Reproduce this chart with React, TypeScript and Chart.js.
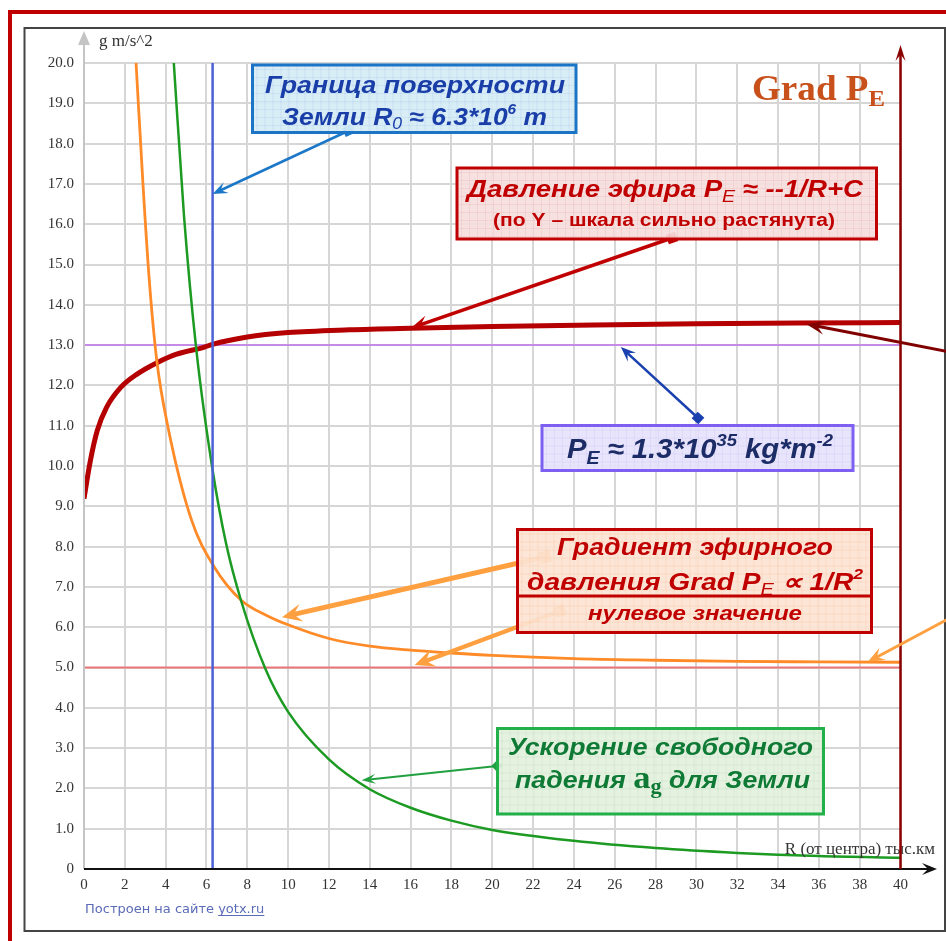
import React, { useEffect, useRef } from 'react';
import { Chart, registerables } from 'chart.js';
Chart.register(...registerables);

const W = 946;
const H = 941;

// ---- data (R in thousand km) ----
const pressureR = [0, 0.3, 0.65, 1.1, 1.8, 2.6, 3.6, 4.5, 5.9, 6.3, 8, 10, 13, 16, 20, 25, 30, 35, 40];
const pressureY = [9.19, 10.1, 10.88, 11.45, 11.95, 12.28, 12.57, 12.77, 12.95, 13.02, 13.2, 13.31, 13.38, 13.42, 13.46, 13.5, 13.53, 13.55, 13.56];
const gradR = [2.55, 2.9, 3.2, 3.57, 4.1, 5.24, 6.35, 7.7, 9, 10, 12, 14, 16, 18, 20, 24, 28, 32, 36, 40];
const gradY = [20, 16.9, 14.6, 12.6, 11.0, 8.7, 7.52, 6.67, 6.28, 6.06, 5.72, 5.53, 5.43, 5.36, 5.3, 5.22, 5.18, 5.15, 5.14, 5.13];
const gravR = [4.4, 4.9, 5.5, 6.3, 6.95, 7.7, 8.9, 10, 12, 14, 16, 18, 20, 24, 28, 32, 36, 40];
const gravY = [20, 16.2, 12.9, 9.9, 8.1, 6.65, 4.95, 3.9, 2.72, 1.98, 1.52, 1.2, 0.97, 0.7, 0.52, 0.4, 0.32, 0.28];
const surfaceR = 6.3;
const pressureLevel = 13;
const zeroGradLevel = 5;
const xRange = [0, 40];
const yRange = [0, 20];
const xTickValues = [0, 2, 4, 6, 8, 10, 12, 14, 16, 18, 20, 22, 24, 26, 28, 30, 32, 34, 36, 38, 40];
const yTickValues = [0, 1, 2, 3, 4, 5, 6, 7, 8, 9, 10, 11, 12, 13, 14, 15, 16, 17, 18, 19, 20];
const yAxisTitle = 'g m/s^2';
const xAxisTitle = 'R (от центра) тыс.км';
const credit = 'Построен на сайте ';
const creditLink = 'yotx.ru';

type Run = { t: string; f: string; dy?: number; c?: string };

function drawRuns(ctx: CanvasRenderingContext2D, runs: Run[], cx: number, y: number, color: string, targetW?: number) {
  let total = 0;
  const widths = runs.map((r) => {
    ctx.font = r.f;
    const w = ctx.measureText(r.t).width;
    total += w;
    return w;
  });
  const sx = targetW ? targetW / total : 1;
  ctx.save();
  ctx.translate(cx, 0);
  ctx.scale(sx, 1);
  let x = -total / 2;
  ctx.textAlign = 'left';
  ctx.textBaseline = 'alphabetic';
  runs.forEach((r, i) => {
    ctx.font = r.f;
    ctx.fillStyle = r.c || color;
    ctx.fillText(r.t, x, y + (r.dy || 0));
    x += widths[i];
  });
  ctx.restore();
}

function arrow(
  ctx: CanvasRenderingContext2D,
  x1: number, y1: number, x2: number, y2: number,
  color: string, lw: number, head: number, half: number,
  mark?: 'square' | 'diamond', markSize = 10
) {
  const ang = Math.atan2(y2 - y1, x2 - x1);
  const c = Math.cos(ang), s = Math.sin(ang);
  const P = (a: number, b: number) => [x2 - c * a - s * b, y2 - s * a + c * b];
  ctx.save();
  ctx.strokeStyle = color;
  ctx.fillStyle = color;
  ctx.lineWidth = lw;
  ctx.lineCap = 'butt';
  ctx.beginPath();
  ctx.moveTo(x1, y1);
  const e = P(head * 0.55, 0);
  ctx.lineTo(e[0], e[1]);
  ctx.stroke();
  const l = P(head, half), r = P(head, -half), n = P(head * 0.6, 0);
  ctx.beginPath();
  ctx.moveTo(x2, y2);
  ctx.lineTo(l[0], l[1]);
  ctx.lineTo(n[0], n[1]);
  ctx.lineTo(r[0], r[1]);
  ctx.closePath();
  ctx.fill();
  if (mark) {
    ctx.translate(x1, y1);
    ctx.rotate(mark === 'diamond' ? Math.PI / 4 : ang);
    ctx.fillRect(-markSize / 2, -markSize / 2, markSize, markSize);
  }
  ctx.restore();
}

function box(ctx: CanvasRenderingContext2D, x: number, y: number, w: number, h: number, fill: string, stroke: string, pattern: string) {
  ctx.save();
  ctx.fillStyle = fill;
  ctx.fillRect(x, y, w, h);
  ctx.beginPath();
  ctx.rect(x, y, w, h);
  ctx.clip();
  ctx.strokeStyle = pattern;
  ctx.lineWidth = 1;
  for (let gx = x + 4; gx < x + w; gx += 8) {
    ctx.beginPath(); ctx.moveTo(gx + 0.5, y); ctx.lineTo(gx + 0.5, y + h); ctx.stroke();
  }
  for (let gy = y + 4; gy < y + h; gy += 8) {
    ctx.beginPath(); ctx.moveTo(x, gy + 0.5); ctx.lineTo(x + w, gy + 0.5); ctx.stroke();
  }
  ctx.restore();
  ctx.save();
  ctx.strokeStyle = stroke;
  ctx.lineWidth = 3;
  ctx.strokeRect(x, y, w, h);
  ctx.restore();
}

const SANS = '"Liberation Sans", Arial, sans-serif';
const SERIF = '"Liberation Serif", "Times New Roman", serif';
const bi = (px: number) => `italic bold ${px}px ${SANS}`;

const decor = {
  id: 'decor',
  beforeDraw(chart: any) {
    const ctx = chart.ctx as CanvasRenderingContext2D;
    ctx.save();
    ctx.fillStyle = '#fff';
    ctx.fillRect(0, 0, W, H);
    ctx.restore();
  },
  afterDraw(chart: any) {
    const ctx = chart.ctx as CanvasRenderingContext2D;
    const xs = chart.scales.x, ys = chart.scales.y;
    const X = (v: number) => xs.getPixelForValue(v);
    const Y = (v: number) => ys.getPixelForValue(v);

    ctx.save();
    // frames
    ctx.strokeStyle = '#c00000';
    ctx.lineWidth = 4;
    ctx.strokeRect(10, 12, 1000, 1000);
    ctx.strokeStyle = '#444';
    ctx.lineWidth = 2;
    ctx.strokeRect(24.5, 28, 920.5, 903);

    // y axis (gray with arrow)
    ctx.strokeStyle = '#c4c4c4';
    ctx.lineWidth = 2;
    ctx.beginPath(); ctx.moveTo(X(0), Y(0)); ctx.lineTo(X(0), 44); ctx.stroke();
    ctx.fillStyle = '#c4c4c4';
    ctx.beginPath(); ctx.moveTo(X(0), 31); ctx.lineTo(X(0) - 6, 45); ctx.lineTo(X(0) + 6, 45); ctx.closePath(); ctx.fill();

    // x axis (black with arrow)
    ctx.strokeStyle = '#111';
    ctx.lineWidth = 2;
    ctx.beginPath(); ctx.moveTo(X(0), Y(0)); ctx.lineTo(928, Y(0)); ctx.stroke();
    arrow(ctx, 920, Y(0), 937, Y(0), '#111', 2, 15, 6);

    // axis titles
    ctx.fillStyle = '#333';
    ctx.font = `17px ${SERIF}`;
    ctx.textAlign = 'left';
    ctx.textBaseline = 'alphabetic';
    ctx.fillText(yAxisTitle, 99, 46);
    ctx.textAlign = 'right';
    ctx.fillText(xAxisTitle, 935, 854);

    // credit
    ctx.textAlign = 'left';
    ctx.font = `13px "DejaVu Sans", sans-serif`;
    ctx.fillStyle = '#5b6bb8';
    ctx.fillText(credit, 85, 913);
    const cw = ctx.measureText(credit).width;
    ctx.fillText(creditLink, 85 + cw, 913);
    const lw = ctx.measureText(creditLink).width;
    ctx.fillRect(85 + cw, 915, lw, 1);

    // dark red vertical arrow at R = 40
    arrow(ctx, X(40), Y(0), X(40), 45, '#8b0000', 2.5, 16, 5);

    // Grad PE label
    drawRuns(ctx, [
      { t: 'Grad P', f: `bold 36px ${SERIF}` },
      { t: 'E', f: `bold 24px ${SERIF}`, dy: 6 },
    ], 818.5, 100, '#c8501a', 133);

    // ---- blue box ----
    arrow(ctx, 348, 131, X(surfaceR), Y(16.75), '#1b78c8', 2.5, 15, 6, 'square', 9);
    box(ctx, 252.5, 65, 323.5, 67.5, 'rgba(214,236,246,0.93)', '#1b74c6', 'rgba(27,116,198,0.08)');
    drawRuns(ctx, [{ t: 'Граница поверхности', f: bi(24) }], 415, 93, '#1a3ea8', 300);
    drawRuns(ctx, [
      { t: 'Земли R', f: bi(24) },
      { t: '0', f: `italic 16px ${SANS}`, dy: 4 },
      { t: ' ≈ 6.3*10', f: bi(24) },
      { t: '6', f: `italic bold 14px ${SANS}`, dy: -11 },
      { t: ' m', f: bi(24) },
    ], 414.5, 125, '#1a3ea8', 265);

    // ---- red box (pressure) ----
    arrow(ctx, 672, 238, X(16), Y(13.42), '#c00000', 3.5, 18, 7, 'square', 10);
    arrow(ctx, 950, 352, X(35.4), Y(13.52), '#800000', 3, 18, 7);
    box(ctx, 457, 168, 419.5, 71, 'rgba(246,222,222,0.93)', '#c00000', 'rgba(192,0,0,0.06)');
    drawRuns(ctx, [
      { t: 'Давление эфира P', f: bi(24) },
      { t: 'E', f: `italic 17px ${SANS}`, dy: 5 },
      { t: ' ≈ --1/R+C', f: bi(24) },
    ], 665, 197, '#c00000', 396);
    drawRuns(ctx, [{ t: '(по Y – шкала сильно растянута)', f: `bold 18px ${SANS}` }], 664, 226, '#c00000', 342);

    // ---- purple box ----
    arrow(ctx, 698, 418, X(26.3), Y(12.95), '#1a40b0', 2.5, 15, 6, 'square', 9);
    box(ctx, 542, 425.5, 311, 45, 'rgba(230,226,251,0.93)', '#7d60f2', 'rgba(125,96,242,0.08)');
    drawRuns(ctx, [
      { t: 'P', f: bi(27) },
      { t: 'E', f: `italic bold 18px ${SANS}`, dy: 6 },
      { t: ' ≈ 1.3*10', f: bi(27) },
      { t: '35', f: `italic bold 17px ${SANS}`, dy: -12 },
      { t: ' kg*m', f: bi(27) },
      { t: '-2', f: `italic bold 17px ${SANS}`, dy: -12 },
    ], 700, 458, '#1c2c66', 266);

    // ---- orange box (gradient) ----
    arrow(ctx, 545, 557, X(9.7), Y(6.25), '#ffa040', 5, 20, 9, 'square', 12);
    arrow(ctx, 560, 611, X(16.2), Y(5.06), '#ffa040', 4.5, 20, 9, 'square', 11);
    arrow(ctx, 950, 618, X(38.4), Y(5.14), '#ffa040', 3, 17, 7);
    box(ctx, 517.5, 529.5, 354, 103, 'rgba(252,228,212,0.93)', '#c00000', 'rgba(255,140,60,0.12)');
    ctx.save();
    ctx.strokeStyle = '#c00000';
    ctx.lineWidth = 3;
    ctx.beginPath(); ctx.moveTo(517.5, 596); ctx.lineTo(871.5, 596); ctx.stroke();
    ctx.restore();
    drawRuns(ctx, [{ t: 'Градиент эфирного', f: bi(24) }], 695, 555, '#c00000', 276);
    drawRuns(ctx, [
      { t: 'давления Grad P', f: bi(24) },
      { t: 'E', f: `italic 17px ${SANS}`, dy: 5 },
      { t: ' ∝ 1/R', f: bi(24) },
      { t: '2', f: `italic bold 15px ${SANS}`, dy: -11 },
    ], 695, 590, '#c00000', 336);
    drawRuns(ctx, [{ t: 'нулевое значение', f: bi(21) }], 695, 620, '#c00000', 214);

    // ---- green box ----
    arrow(ctx, 497, 766, X(13.6), Y(2.2), '#22a040', 2, 14, 5, 'diamond', 8);
    box(ctx, 497.5, 728.5, 326, 85.5, 'rgba(228,241,222,0.93)', '#22b04a', 'rgba(34,160,74,0.08)');
    drawRuns(ctx, [{ t: 'Ускорение свободного', f: bi(24) }], 660.5, 755, '#0f7a35', 305);
    drawRuns(ctx, [
      { t: 'падения ', f: bi(24) },
      { t: 'a', f: `bold 31px ${SERIF}` },
      { t: 'g', f: `bold 20px ${SERIF}`, dy: 5 },
      { t: ' для Земли', f: bi(24) },
    ], 662.5, 788, '#0f7a35', 295);

    ctx.restore();
  },
};

export default function App() {
  const ref = useRef<HTMLCanvasElement>(null);
  useEffect(() => {
    if (!ref.current) return;
    const pts = (xs: number[], ys: number[]) => xs.map((x, i) => ({ x, y: ys[i] }));
    const chart = new Chart(ref.current, {
      type: 'line',
      data: {
        datasets: [
          { label: 'R0', data: [{ x: surfaceR, y: yRange[0] }, { x: surfaceR, y: yRange[1] }], borderColor: '#4b60d6', borderWidth: 2.5 },
          { label: 'g', data: pts(gravR, gravY), borderColor: '#1c9a22', borderWidth: 2.5, cubicInterpolationMode: 'monotone' },
          { label: 'grad', data: pts(gradR, gradY), borderColor: '#ff8a28', borderWidth: 2.8, cubicInterpolationMode: 'monotone' },
          { label: 'P', data: pts(pressureR, pressureY), borderColor: '#b40000', borderWidth: 5, cubicInterpolationMode: 'monotone' },
          { label: 'Plevel', data: [{ x: xRange[0], y: pressureLevel }, { x: xRange[1], y: pressureLevel }], borderColor: '#c58be6', borderWidth: 2 },
          { label: 'zero', data: [{ x: xRange[0], y: zeroGradLevel }, { x: xRange[1], y: zeroGradLevel }], borderColor: '#e87878', borderWidth: 2 },
        ],
      } as any,
      options: {
        responsive: false,
        animation: false,
        devicePixelRatio: 1,
        parsing: false as any,
        elements: { point: { radius: 0 } },
        layout: { padding: { left: 0, top: 63, right: W - 900.5, bottom: 0 } },
        plugins: { legend: { display: false }, tooltip: { enabled: false } },
        scales: {
          x: {
            type: 'linear',
            min: xRange[0],
            max: xRange[1],
            border: { display: false },
            grid: { color: '#d6d6d6', lineWidth: 2, drawTicks: false },
            ticks: {
              padding: 7,
              maxRotation: 0,
              autoSkip: false,
              color: '#333',
              font: { family: '"Liberation Serif", serif', size: 15 },
            },
            afterBuildTicks: (s: any) => { s.ticks = xTickValues.map((v) => ({ value: v })); },
            afterFit: (s: any) => { s.height = H - 869; },
          },
          y: {
            type: 'linear',
            min: yRange[0],
            max: yRange[1],
            border: { display: false },
            grid: { color: '#d6d6d6', lineWidth: 2, drawTicks: false },
            ticks: {
              padding: 10,
              autoSkip: false,
              color: '#333',
              font: { family: '"Liberation Serif", serif', size: 15 },
              callback: (v: any) => (Number(v) === 0 ? '0' : Number(v).toFixed(1)),
            },
            afterBuildTicks: (s: any) => { s.ticks = yTickValues.map((v) => ({ value: v })); },
            afterFit: (s: any) => { s.width = 84; },
          },
        },
      } as any,
      plugins: [decor],
    });
    return () => chart.destroy();
  }, []);
  return (
    <div style={{ position: 'absolute', left: 0, top: 0, width: W, height: H, background: '#fff' }}>
      <canvas ref={ref} width={W} height={H} style={{ display: 'block', width: W, height: H }} />
    </div>
  );
}
